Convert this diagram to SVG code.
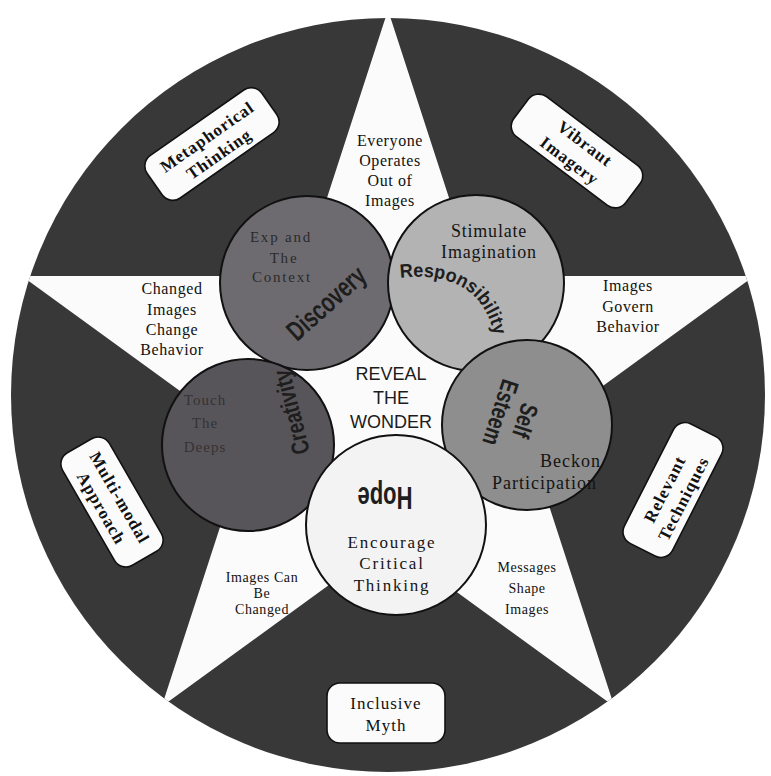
<svg xmlns="http://www.w3.org/2000/svg" width="771" height="776" viewBox="0 0 771 776">
<defs>
<clipPath id="disc"><circle cx="388" cy="395" r="377"/></clipPath>
<path id="respPath" d="M 400,278 Q 484,268 496,344"/>
<style>
.serif{font-family:"Liberation Serif","Times New Roman",serif;}
.sans{font-family:"Liberation Sans",Arial,sans-serif;}
.arm{font-size:16px;fill:#111;text-anchor:middle;letter-spacing:0.6px;}
.ctext{font-size:17px;text-anchor:middle;letter-spacing:1.2px;}
.word{font-weight:bold;fill:#1e1e1e;}
.node circle{stroke:#111;stroke-width:2;}
.tag rect{fill:#fbfbfb;stroke:#111;stroke-width:1.6;}
.tag text{font-size:17px;font-weight:bold;text-anchor:middle;fill:#111;letter-spacing:1px;}
</style>
</defs>
<rect width="771" height="776" fill="#ffffff"/>
<g id="wheel">
<circle cx="388" cy="395" r="377" fill="#383838"/>
<polygon clip-path="url(#disc)" fill="#fbfbfb" points="388,10 474.4,276 754.2,276 527.8,440.4 614.3,706.5 388,542 161.7,706.5 248.2,440.4 21.8,276 301.6,276"/>
</g>
<g id="arm-top" class="serif arm"><text x="390" y="146">Everyone</text><text x="390" y="166">Operates</text><text x="390" y="186">Out of</text><text x="390" y="206">Images</text></g>
<g id="arm-left" class="serif arm"><text x="172" y="294">Changed</text><text x="172" y="315">Images</text><text x="172" y="335">Change</text><text x="172" y="355">Behavior</text></g>
<g id="arm-right" class="serif arm"><text x="628" y="291">Images</text><text x="628" y="312">Govern</text><text x="628" y="332">Behavior</text></g>
<g id="arm-bottom-left" class="serif arm" style="font-size:14px"><text x="262" y="582">Images Can</text><text x="262" y="598">Be</text><text x="262" y="614">Changed</text></g>
<g id="arm-bottom-right" class="serif arm" style="font-size:14px"><text x="527" y="572">Messages</text><text x="527" y="593">Shape</text><text x="527" y="614">Images</text></g>
<g id="node-expand" class="node"><circle cx="307" cy="283" r="87" fill="#6e6b70"/>
<g class="serif ctext" fill="#2a2a2a" style="font-size:15px;letter-spacing:1.8px"><text x="281" y="242">Exp and</text><text x="284" y="263">The</text><text x="282" y="282">Context</text></g>
<text class="sans word" transform="translate(327,304) rotate(-42) scale(1,1.4)" x="0" y="6" text-anchor="middle" font-size="20">Discovery</text></g>
<g id="node-touch" class="node"><circle cx="248" cy="445" r="86" fill="#58555a"/>
<g class="serif ctext" fill="#333" style="font-size:15px;letter-spacing:1px"><text x="205" y="405">Touch</text><text x="205" y="428">The</text><text x="205" y="452">Deeps</text></g>
<text class="sans word" transform="translate(292,412) rotate(-104) scale(1,1.3)" x="0" y="6" text-anchor="middle" font-size="19" fill="#262428">Creativity</text></g>
<g id="node-stimulate" class="node"><circle cx="476" cy="283" r="88" fill="#b3b3b3"/>
<g class="serif ctext" fill="#151515" style="font-size:18px;letter-spacing:0.8px"><text x="489" y="237">Stimulate</text><text x="489" y="258">Imagination</text></g>
<text class="sans word" font-size="19" fill="#141414"><textPath href="#respPath" textLength="124" lengthAdjust="spacingAndGlyphs">Responsibility</textPath></text></g>
<g id="node-beckon" class="node"><circle cx="527" cy="425" r="85" fill="#8e8e8e"/>
<g class="serif" fill="#141414" style="font-size:18px;letter-spacing:1px"><text x="540" y="467">Beckon</text><text x="492" y="489">Participation</text></g>
<g class="sans word" transform="translate(511,416) rotate(108) scale(1,1.3)" text-anchor="middle" font-size="19" fill="#141414"><text x="0" y="-5">Self</text><text x="0" y="15">Esteem</text></g></g>
<g id="node-hope" class="node"><circle cx="396" cy="525" r="90" fill="#f3f3f3"/>
<text class="sans word" transform="translate(385,498) rotate(180) scale(1,1.4)" x="0" y="8" text-anchor="middle" font-size="22" fill="#1a1a1a">Hope</text>
<g class="serif ctext" fill="#151515" style="font-size:17px;letter-spacing:1.8px"><text x="392" y="548">Encourage</text><text x="392" y="569">Critical</text><text x="392" y="591">Thinking</text></g></g>
<g id="center-label" class="sans" font-size="18" fill="#1c1c1c" text-anchor="middle"><text x="391" y="380">REVEAL</text><text x="391" y="404">THE</text><text x="391" y="428">WONDER</text></g>
<g id="tag-metaphorical" class="tag serif" transform="translate(212,144) rotate(-35)"><rect x="-70" y="-26" width="140" height="52" rx="13"/><text x="0" y="-3">Metaphorical</text><text x="0" y="18">Thinking</text></g>
<g id="tag-vibraut" class="tag serif" transform="translate(577,151) rotate(37)"><rect x="-70" y="-25" width="140" height="50" rx="13"/><text x="2" y="-5">Vibraut</text><text x="0" y="18">Imagery</text></g>
<g id="tag-multimodal" class="tag serif" transform="translate(112,502) rotate(60)"><rect x="-65" y="-27" width="130" height="54" rx="13"/><text x="0" y="-3">Multi-modal</text><text x="0" y="18">Approach</text></g>
<g id="tag-relevant" class="tag serif" transform="translate(673,490) rotate(-63)"><rect x="-67" y="-27" width="134" height="54" rx="13"/><text x="-3" y="-2">Relevant</text><text x="-3" y="19">Techniques</text></g>
<g id="tag-inclusive" class="tag serif"><rect x="327" y="683" width="118" height="60" rx="13"/><text x="386" y="709" style="font-weight:normal">Inclusive</text><text x="386" y="731" style="font-weight:normal">Myth</text></g>
</svg>
